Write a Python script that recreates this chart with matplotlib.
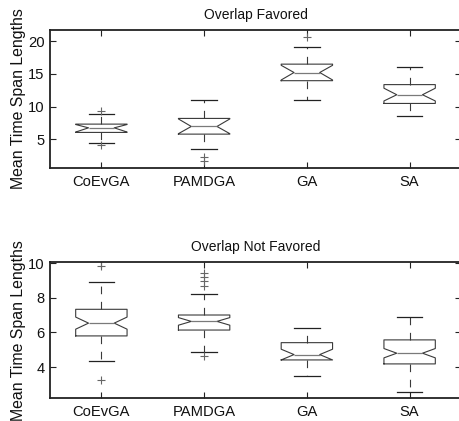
import matplotlib
matplotlib.use("Agg")
import matplotlib.pyplot as plt

plt.rcParams['lines.scale_dashes'] = False
plt.rcParams['font.family'] = ['Liberation Sans', 'DejaVu Sans']

categories = ["CoEvGA", "PAMDGA", "GA", "SA"]

# Overlap Favored
fav_q1 = [6.04, 5.78, 13.95, 10.47]
fav_med = [6.74, 6.95, 15.2, 11.8]
fav_q3 = [7.31, 8.18, 16.48, 13.35]
fav_lo = [4.45, 3.56, 10.98, 8.49]
fav_hi = [8.84, 10.98, 19.08, 16.07]
fav_cilo = [6.1, 5.85, 14.06, 10.85]
fav_cihi = [7.25, 8.1, 16.3, 12.8]
fav_fliers = [[9.25, 4.1], [2.3, 1.65], [20.66], []]
fav_yticks = [5, 10, 15, 20]

# Overlap Not Favored
nf_q1 = [5.80, 6.14, 4.41, 4.18]
nf_med = [6.54, 6.64, 4.72, 4.80]
nf_q3 = [7.34, 7.01, 5.41, 5.57]
nf_lo = [4.33, 4.86, 3.49, 2.58]
nf_hi = [8.94, 8.21, 6.28, 6.91]
nf_cilo = [6.19, 6.42, 4.41, 4.53]
nf_cihi = [6.89, 6.86, 5.03, 5.07]
nf_fliers = [[9.84, 3.25], [9.45, 9.2, 8.95, 8.7, 4.62], [], []]
nf_yticks = [4, 6, 8, 10]

fig = plt.figure(figsize=(4.59, 4.21), dpi=100)

def make_stats(q1, med, q3, lo, hi, cilo, cihi, fliers):
    out = []
    for i in range(len(q1)):
        out.append(dict(q1=q1[i], med=med[i], q3=q3[i], whislo=lo[i], whishi=hi[i],
                        cilo=cilo[i], cihi=cihi[i], fliers=fliers[i], label=categories[i]))
    return out

def draw(ax, stats, title, yticks, ylim):
    ax.bxp(stats, positions=[1, 2, 3, 4], widths=0.5, shownotches=True,
           boxprops=dict(color='#3a3a3a', linewidth=0.8),
           medianprops=dict(color='#7a7a7a', linewidth=0.9),
           whiskerprops=dict(color='#3a3a3a', linewidth=0.8, linestyle=(0, (5.5, 5.5))),
           capprops=dict(color='#222222', linewidth=0.9),
           flierprops=dict(marker='+', markersize=6, markeredgecolor='#666666',
                           markeredgewidth=0.8, linestyle='none'))
    ax.set_xlim(0.5, 4.5)
    ax.set_ylim(*ylim)
    ax.set_yticks(yticks)
    ax.set_xticks([1, 2, 3, 4])
    ax.set_xticklabels(categories)
    ax.tick_params(direction='in', length=4.5, width=0.8, labelsize=10.6, pad=4,
                   top=True, right=True, colors='#222222', labelcolor='#111111')
    ax.tick_params(axis='x', pad=5)
    for s in ax.spines.values():
        s.set_linewidth(1.3)
        s.set_color('#222222')
    ax.set_title(title, fontsize=10, pad=8, color='#111111')
    ax.set_ylabel("Mean Time Span Lengths", fontsize=11.4, color='#111111')
    ax.yaxis.set_label_coords(-0.058, 0.5)

ax1 = fig.add_axes([50/459, 1-168/421, 411/459, 138/421])
draw(ax1, make_stats(fav_q1, fav_med, fav_q3, fav_lo, fav_hi, fav_cilo, fav_cihi, fav_fliers),
     "Overlap Favored", fav_yticks, (0.6, 21.7))

ax2 = fig.add_axes([50/459, 1-398.3/421, 411/459, 136/421])
draw(ax2, make_stats(nf_q1, nf_med, nf_q3, nf_lo, nf_hi, nf_cilo, nf_cihi, nf_fliers),
     "Overlap Not Favored", nf_yticks, (2.19, 10.06))

fig.savefig("out.png", dpi=100)
